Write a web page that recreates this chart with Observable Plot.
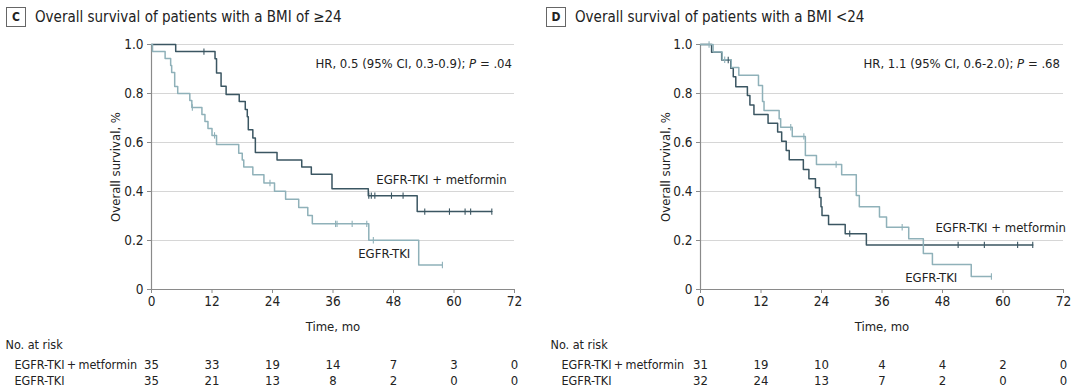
<!DOCTYPE html>
<html>
<head>
<meta charset="utf-8">
<script src="https://cdn.jsdelivr.net/npm/d3@7"></script>
<script src="https://cdn.jsdelivr.net/npm/@observablehq/plot@0.6"></script>
<style>
  body { margin: 0; background: #fff; }
  #wrap { display: flex; width: 1080px; height: 392px; overflow: hidden;
    font-family: "Liberation Sans Narrow", "DejaVu Sans Condensed", "Roboto Condensed", sans-serif; color: #222; }
  .panel { position: relative; width: 540px; height: 392px; }
  .panel svg { display: block; }
  .title { position: absolute; left: 6px; top: 7px; display: flex; align-items: center; font-size: 15px; white-space: nowrap; }
  .badge { box-sizing: border-box; width: 20px; height: 20px; border: 1px solid #666; display: flex; align-items: center;
    justify-content: center; font-weight: bold; font-size: 12px; margin-right: 9px; }
  .hr { position: absolute; top: 56px; font-size: 13px; white-space: nowrap; }
</style>
</head>
<body>
<div id="wrap"></div>
<script>
// ---------- shared ----------
const ticksX = [0, 12, 24, 36, 48, 60, 72];
const ticksY = [0, 0.2, 0.4, 0.6, 0.8, 1.0];
const seriesNames = ["EGFR-TKI + metformin", "EGFR-TKI"];
const seriesColors = ["#3b5662", "#8fb1b9"];

// ---------- Panel C : BMI >= 24 ----------
const cTitle = "Overall survival of patients with a BMI of \u226524";
const cHR = "HR, 0.5 (95% CI, 0.3-0.9); ";
const cP = ".04";
const cMetTime = [0, 4.8, 12.6, 12.9, 13.8, 14.8, 17.4, 18.6, 19.0, 19.2, 20.1, 20.6, 24.9, 29.8, 31.7, 35.8, 43.0, 52.7, 67.5];
const cMetSurv = [1, 0.971, 0.942, 0.884, 0.83, 0.796, 0.767, 0.735, 0.705, 0.652, 0.618, 0.559, 0.529, 0.5, 0.47, 0.411, 0.383, 0.318, 0.318];
const cMetCensor = [10.4, 43.1, 43.6, 44.3, 47.6, 49.9, 54.2, 59.1, 62.2, 63.3, 67.5];
const cTkiTime = [0, 0.2, 2.7, 3.8, 4.0, 4.6, 5.2, 7.6, 8.0, 10.0, 10.6, 11.2, 12.0, 12.9, 17.3, 18.0, 18.3, 20.1, 22.3, 24.4, 26.6, 29.2, 31.0, 31.9, 43.1, 53.0, 57.7];
const cTkiSurv = [1, 0.971, 0.943, 0.914, 0.886, 0.829, 0.8, 0.771, 0.743, 0.714, 0.686, 0.657, 0.629, 0.592, 0.556, 0.529, 0.5, 0.468, 0.435, 0.401, 0.368, 0.335, 0.302, 0.268, 0.201, 0.1, 0.1];
const cTkiCensor = [8.1, 12.5, 23.5, 36.5, 36.8, 39.8, 42.7, 44.0, 57.7];
const cRiskMet = [35, 33, 19, 14, 7, 3, 0];
const cRiskTki = [35, 21, 13, 8, 2, 0, 0];
const cLabels = [
  {label: "EGFR-TKI + metformin", t: 44.6, s: 0.449},
  {label: "EGFR-TKI", t: 41.0, s: 0.146}
];

// ---------- Panel D : BMI < 24 ----------
const dTitle = "Overall survival of patients with a BMI <24";
const dHR = "HR, 1.1 (95% CI, 0.6-2.0); ";
const dP = ".68";
const dMetTime = [0, 2.2, 4.2, 6.0, 6.5, 7.0, 9.3, 9.8, 10.6, 13.4, 15.3, 16.1, 17.0, 17.6, 20.4, 21.5, 22.8, 23.6, 23.9, 24.1, 25.4, 28.7, 32.9, 65.9];
const dMetSurv = [1, 0.968, 0.937, 0.903, 0.868, 0.828, 0.792, 0.753, 0.714, 0.679, 0.643, 0.605, 0.567, 0.53, 0.49, 0.452, 0.415, 0.376, 0.338, 0.302, 0.265, 0.228, 0.182, 0.182];
const dMetCensor = [5.5, 29.6, 51.1, 56.3, 62.9, 65.9];
const dTkiTime = [0, 2.5, 4.3, 6.1, 7.6, 11.5, 12.3, 12.6, 15.6, 15.9, 18.2, 20.8, 23.0, 28.0, 30.9, 31.5, 35.5, 36.9, 41.3, 44.2, 46.0, 53.7, 57.7];
const dTkiSurv = [1, 0.969, 0.938, 0.906, 0.875, 0.833, 0.767, 0.731, 0.697, 0.662, 0.625, 0.547, 0.51, 0.468, 0.384, 0.338, 0.296, 0.254, 0.207, 0.147, 0.102, 0.053, 0.053];
const dTkiCensor = [1.7, 4.8, 17.9, 20.5, 26.9, 40.0, 57.7];
const dRiskMet = [31, 19, 10, 4, 4, 2, 0];
const dRiskTki = [32, 24, 13, 7, 2, 0, 0];
const dLabels = [
  {label: "EGFR-TKI + metformin", t: 46.6, s: 0.253},
  {label: "EGFR-TKI", t: 40.6, s: 0.047}
];

// ---------- helpers ----------
function steps(times, surv, group) { return times.map((t, i) => ({t, s: surv[i], group})); }
function survAt(times, surv, t) { let s = surv[0]; for (let i = 0; i < times.length; i++) if (times[i] <= t) s = surv[i]; return s; }
function censors(cens, times, surv, group) { return cens.map(t => ({t, s: survAt(times, surv, t), group})); }
const vtick = { draw(ctx, size) { const r = Math.sqrt(size / Math.PI); ctx.moveTo(0, -r); ctx.lineTo(0, r); } };
const fmtY = d => d === 0 ? "0" : d.toFixed(1);
const axisColor = "#8a8a8a";
const FS = 13;

function panel(cfg) {
  const lines = [
    ...steps(cfg.metT, cfg.metS, seriesNames[0]),
    ...steps(cfg.tkiT, cfg.tkiS, seriesNames[1])
  ];
  const cens = [
    ...censors(cfg.metC, cfg.metT, cfg.metS, seriesNames[0]),
    ...censors(cfg.tkiC, cfg.tkiT, cfg.tkiS, seriesNames[1])
  ];
  const riskMet = ticksX.map((t, i) => ({t, n: cfg.riskMet[i]}));
  const riskTki = ticksX.map((t, i) => ({t, n: cfg.riskTki[i]}));
  const txt = {fill: "#222", fontSize: FS, lineAnchor: "middle"};
  const rowTxt = {fill: "#222", fontSize: 12.5, lineAnchor: "middle"};
  const plot = Plot.plot({
    width: 540, height: 392,
    marginLeft: cfg.ml, marginRight: 540 - cfg.ml - 363, marginTop: 44, marginBottom: 103,
    x: {domain: [0, 72]},
    y: {domain: [0, 1]},
    color: {domain: seriesNames, range: seriesColors},
    style: {fontFamily: '"Liberation Sans Narrow", "DejaVu Sans Condensed", "Roboto Condensed", sans-serif', fontSize: "13px", color: "#222", overflow: "visible", background: "#fff"},
    marks: [
      Plot.gridY(ticksY.filter(d => d > 0), {stroke: "#d6d6d6", strokeOpacity: 1, strokeWidth: 1.2}),
      Plot.ruleX([0], {stroke: axisColor, strokeWidth: 1.2}),
      Plot.ruleY([0], {stroke: axisColor, strokeWidth: 1.2}),
      Plot.axisX(ticksX, {tickSize: 4, tickPadding: 3, label: null, stroke: axisColor, fill: "#222", fontSize: 13.5}),
      Plot.axisY(ticksY, {tickSize: 4, tickPadding: 4, label: null, tickFormat: fmtY, stroke: axisColor, fill: "#222", fontSize: 13.5}),
      Plot.line(lines, {x: "t", y: "s", z: "group", stroke: "group", curve: "step-after", strokeWidth: 1.5}),
      Plot.dot(cens, {x: "t", y: "s", stroke: "group", symbol: vtick, r: 3.2, fill: "none", strokeWidth: 1.1}),
      Plot.text(cfg.labels, {x: "t", y: "s", text: "label", textAnchor: "start", ...txt}),
      Plot.text(["Overall survival, %"], {frameAnchor: "left", dx: -cfg.ylabOff, rotate: -90, textAnchor: "middle", ...txt}),
      Plot.text(["Time, mo"], {frameAnchor: "bottom", dy: 37, textAnchor: "middle", ...txt}),
      Plot.text(["No. at risk"], {frameAnchor: "bottom-left", dx: -cfg.noOff, dy: 55, textAnchor: "start", ...rowTxt}),
      Plot.text([seriesNames[0].replace(/ \+ /, "\u2009+\u2009")], {frameAnchor: "bottom-left", dx: -cfg.rowOff, dy: 75, textAnchor: "start", ...rowTxt}),
      Plot.text([seriesNames[1]], {frameAnchor: "bottom-left", dx: -cfg.rowOff, dy: 91, textAnchor: "start", ...rowTxt}),
      Plot.text(riskMet, {x: "t", text: "n", frameAnchor: "bottom", dy: 75, textAnchor: "middle", ...txt}),
      Plot.text(riskTki, {x: "t", text: "n", frameAnchor: "bottom", dy: 91, textAnchor: "middle", ...txt})
    ]
  });
  const div = document.createElement("div");
  div.className = "panel";
  div.appendChild(plot);
  const title = document.createElement("div");
  title.className = "title";
  const badge = document.createElement("span");
  badge.className = "badge";
  badge.textContent = cfg.letter;
  const tt = document.createElement("span");
  tt.textContent = cfg.title;
  title.appendChild(badge); title.appendChild(tt);
  div.appendChild(title);
  const hr = document.createElement("div");
  hr.className = "hr";
  hr.style.right = cfg.hrRight + "px";
  hr.appendChild(document.createTextNode(cfg.hr));
  const it = document.createElement("i"); it.textContent = "P";
  hr.appendChild(it);
  hr.appendChild(document.createTextNode(" = " + cfg.p));
  div.appendChild(hr);
  return div;
}

const wrap = document.getElementById("wrap");
wrap.appendChild(panel({
  letter: "C", title: cTitle, hr: cHR, p: cP, hrRight: 28,
  metT: cMetTime, metS: cMetSurv, metC: cMetCensor,
  tkiT: cTkiTime, tkiS: cTkiSurv, tkiC: cTkiCensor,
  riskMet: cRiskMet, riskTki: cRiskTki, labels: cLabels,
  ml: 151, ylabOff: 36, noOff: 146, rowOff: 137
}));
wrap.appendChild(panel({
  letter: "D", title: dTitle, hr: dHR, p: dP, hrRight: 20,
  metT: dMetTime, metS: dMetSurv, metC: dMetCensor,
  tkiT: dTkiTime, tkiS: dTkiSurv, tkiC: dTkiCensor,
  riskMet: dRiskMet, riskTki: dRiskTki, labels: dLabels,
  ml: 160, ylabOff: 35, noOff: 150, rowOff: 139
}));
</script>
</body>
</html>
